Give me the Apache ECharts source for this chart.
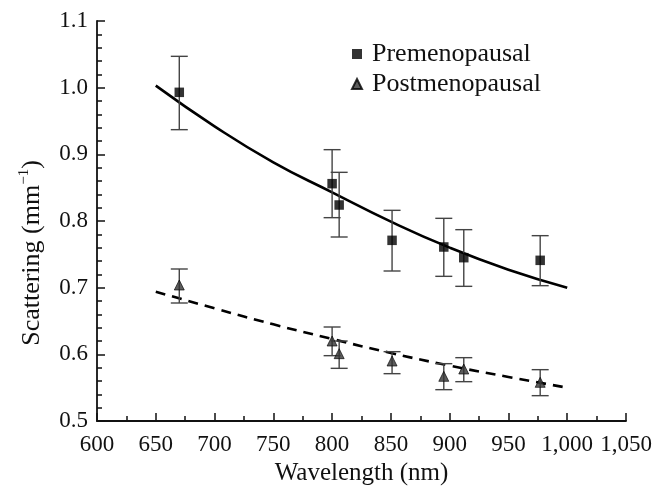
<!DOCTYPE html>
<html>
<head>
<meta charset="utf-8">
<script src="https://cdn.jsdelivr.net/npm/echarts@6/dist/echarts.min.js"></script>
<style>html,body{margin:0;padding:0;background:#fff;}#c{width:672px;height:491px;}</style>
</head>
<body>
<div id="c"></div>
<script>
const wavelengths = [670, 800, 806, 851, 895, 912, 977];
const preValues = [0.993, 0.856, 0.824, 0.771, 0.761, 0.745, 0.741];
const preErrLow = [0.937, 0.805, 0.776, 0.725, 0.717, 0.702, 0.703];
const preErrHigh = [1.047, 0.907, 0.873, 0.816, 0.804, 0.787, 0.778];
const postValues = [0.704, 0.620, 0.601, 0.590, 0.567, 0.578, 0.558];
const postErrLow = [0.677, 0.598, 0.579, 0.571, 0.547, 0.559, 0.538];
const postErrHigh = [0.728, 0.641, 0.620, 0.604, 0.586, 0.595, 0.577];
const fitWavelengths = [650, 700, 750, 800, 850, 900, 950, 1000];
const preFit = [1.003, 0.942, 0.888, 0.843, 0.799, 0.760, 0.727, 0.700];
const postFit = [0.694, 0.669, 0.645, 0.623, 0.602, 0.583, 0.566, 0.550];

const FONT = '"Times New Roman", "Liberation Serif", "DejaVu Serif", serif';
const zip = (a, b) => a.map((v, i) => [v, b[i]]);
const zip3 = (a, b, c) => a.map((v, i) => [v, b[i], c[i]]);

function renderErr(params, api) {
  const x = api.value(0), lo = api.value(1), hi = api.value(2);
  const pLo = api.coord([x, lo]), pHi = api.coord([x, hi]);
  const w = 8.5;
  const st = { stroke: '#444', lineWidth: 1.4 };
  return {
    type: 'group',
    children: [
      { type: 'line', shape: { x1: pLo[0], y1: pLo[1], x2: pHi[0], y2: pHi[1] }, style: st },
      { type: 'line', shape: { x1: pLo[0] - w, y1: pLo[1], x2: pLo[0] + w, y2: pLo[1] }, style: st },
      { type: 'line', shape: { x1: pHi[0] - w, y1: pHi[1], x2: pHi[0] + w, y2: pHi[1] }, style: st }
    ]
  };
}

const chart = echarts.init(document.getElementById('c'), null, { renderer: 'canvas' });
chart.setOption({
  animation: false,
  backgroundColor: '#fff',
  textStyle: { fontFamily: FONT },
  grid: { left: 97, right: 46, top: 21, bottom: 66, containLabel: false },
  legend: {
    orient: 'vertical',
    left: 346,
    top: 34,
    itemGap: 0,
    itemWidth: 10,
    itemHeight: 10,
    textStyle: { fontFamily: FONT, fontSize: 26, color: '#111', lineHeight: 30, padding: [0, 0, 0, 5] },
    data: [
      { name: 'Premenopausal', icon: 'rect' },
      { name: 'Postmenopausal', icon: 'triangle' }
    ]
  },
  xAxis: {
    type: 'value',
    min: 600, max: 1050, interval: 50,
    name: 'Wavelength (nm)',
    nameLocation: 'middle',
    nameGap: 40,
    nameTextStyle: { fontFamily: FONT, fontSize: 25, color: '#111' },
    axisLine: { show: true, onZero: false, lineStyle: { color: '#111', width: 1.8 } },
    axisTick: { show: true, inside: true, length: 8, lineStyle: { color: '#111', width: 1.5 } },
    minorTick: { show: true, splitNumber: 2, length: 5, lineStyle: { color: '#111', width: 1.5 } },
    splitLine: { show: false },
    axisLabel: {
      fontFamily: FONT, fontSize: 23, color: '#111', margin: 12,
      formatter: v => v >= 1000 ? Math.floor(v / 1000) + ',' + String(v % 1000).padStart(3, '0') : String(v)
    }
  },
  yAxis: {
    type: 'value',
    min: 0.5, max: 1.1, interval: 0.1,
    name: '{a|Scattering (mm}{b|−1}{a|)}',
    nameLocation: 'middle',
    nameGap: 50,
    nameRotate: 90,
    nameTextStyle: {
      padding: [0, 64, 0, 0],
      rich: {
        a: { fontFamily: FONT, fontSize: 26, color: '#111', lineHeight: 30 },
        b: { fontFamily: FONT, fontSize: 15, color: '#111', lineHeight: 18, verticalAlign: 'top' }
      }
    },
    axisLine: { show: true, onZero: false, lineStyle: { color: '#111', width: 1.8 } },
    axisTick: { show: true, inside: true, length: 8, lineStyle: { color: '#111', width: 1.5 } },
    minorTick: { show: true, splitNumber: 5, length: 5, lineStyle: { color: '#111', width: 1.5 } },
    splitLine: { show: false },
    axisLabel: { fontFamily: FONT, fontSize: 23, color: '#111', margin: 9, formatter: v => v.toFixed(1) }
  },
  series: [
    {
      name: 'preFit', type: 'line', smooth: true, showSymbol: false, silent: true,
      data: zip(fitWavelengths, preFit),
      lineStyle: { color: '#000', width: 2.6 }, z: 2
    },
    {
      name: 'postFit', type: 'line', smooth: true, showSymbol: false, silent: true,
      data: zip(fitWavelengths, postFit),
      lineStyle: { color: '#000', width: 2.6, type: [10, 7] }, z: 2
    },
    {
      name: 'preErr', type: 'custom', renderItem: renderErr,
      data: zip3(wavelengths, preErrLow, preErrHigh), encode: { x: 0, y: [1, 2] }, z: 3
    },
    {
      name: 'postErr', type: 'custom', renderItem: renderErr,
      data: zip3(wavelengths, postErrLow, postErrHigh), encode: { x: 0, y: [1, 2] }, z: 3
    },
    {
      name: 'Premenopausal', type: 'scatter', symbol: 'rect', symbolSize: 9.5,
      data: zip(wavelengths, preValues),
      itemStyle: { color: '#000' }, z: 4
    },
    {
      name: 'Postmenopausal', type: 'scatter', symbol: 'triangle', symbolSize: 10,
      data: zip(wavelengths, postValues),
      itemStyle: { color: '#333', borderColor: '#000', borderWidth: 0.8 }, z: 4
    }
  ]
});
</script>
</body>
</html>
